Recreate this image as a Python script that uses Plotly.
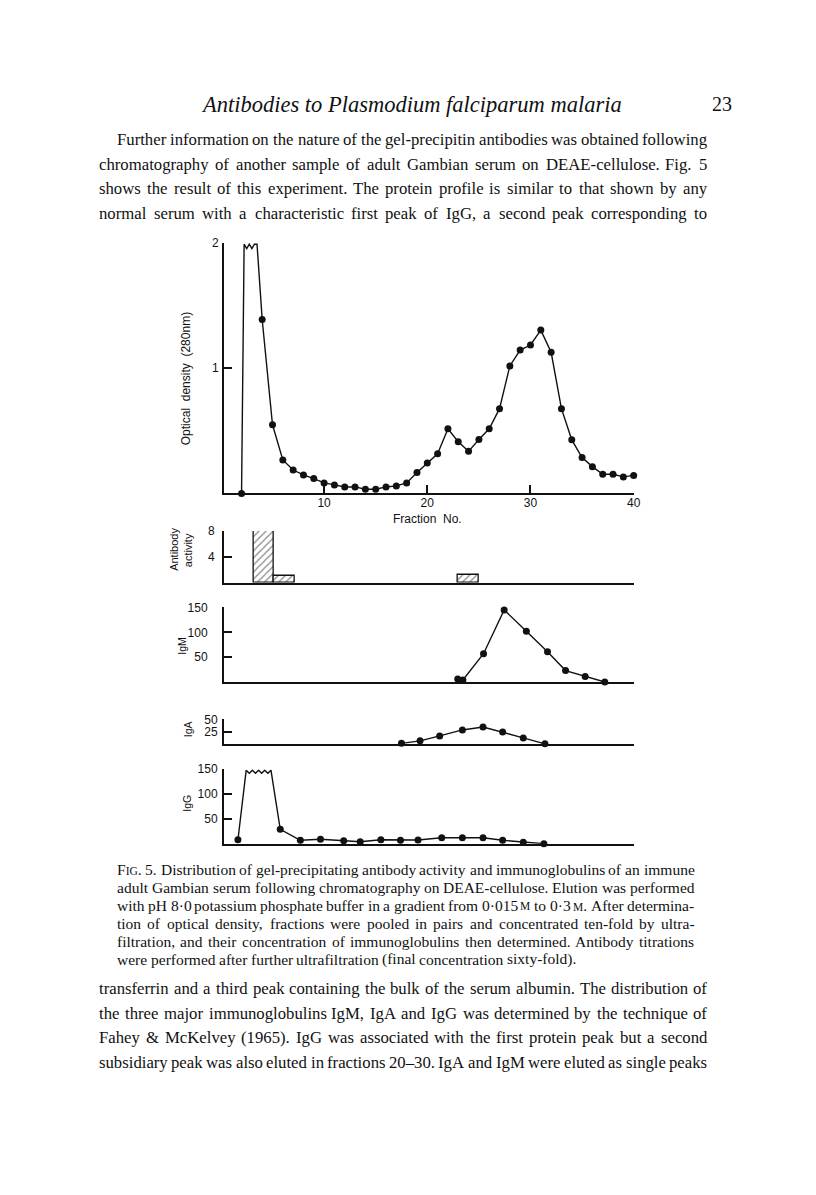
import re
import plotly.graph_objects as go

# ------------------------------------------------------------------ data
od_fraction = [2, 4, 5, 6, 7, 8, 9, 10, 11, 12, 13, 14, 15, 16, 17, 18, 19, 20, 21,
               22, 23, 24, 25, 26, 27, 28, 29, 30, 31, 32, 33, 34, 35, 36, 37, 38, 39, 40]
od_value = [0.0, 1.389, 0.548, 0.267, 0.187, 0.148, 0.119, 0.084, 0.068, 0.052, 0.052,
            0.034, 0.034, 0.052, 0.060, 0.084, 0.167, 0.243, 0.317, 0.516, 0.413, 0.336,
            0.431, 0.516, 0.677, 1.018, 1.145, 1.185, 1.304, 1.127, 0.677, 0.428, 0.286,
            0.214, 0.153, 0.153, 0.132, 0.144]
# off-scale break drawn at the top of the first peak
od_break_x = [2.25, 2.5, 2.75, 3.0, 3.25, 3.5]
od_break_y = [1.99, 1.955, 1.99, 1.955, 1.99, 1.99]

ab_fraction = [4.15, 6.15, 24.0]
ab_activity = [8, 1.0, 1.2]
ab_width = 2.0

igm_fraction = [22.95, 23.45, 25.45, 27.45, 29.6, 31.65, 33.4, 35.3, 37.2]
igm_value = [6, 4, 57, 145, 102, 61, 23, 11, 0]

iga_fraction = [17.5, 19.3, 21.2, 23.4, 25.4, 27.3, 29.3, 31.4]
iga_value = [2, 7, 17, 29, 35, 25, 13, 1]

igg_fraction = [1.65, 5.75, 7.7, 9.65, 11.9, 13.5, 15.5, 17.4, 19.1, 21.4, 23.4, 25.4,
                27.3, 29.3, 31.3]
igg_value = [8, 29, 7, 9, 6, 4, 8, 7, 7.5, 12, 12, 12, 7, 3, 0]
igg_break_x = [2.45, 2.75, 3.05, 3.35, 3.65, 3.95, 4.25, 4.55, 4.85]
igg_break_y = [148, 142, 148, 142, 148, 142, 148, 142, 148]

x_ticks = [10, 20, 30, 40]
x_tick_text = ["10", "20", "30", "40"]

# ------------------------------------------------------------------ page geometry
PAGE_W, PAGE_H = 816, 1195
OFF = 8                      # default page margin of the html body
W, H = PAGE_W - 2 * OFF, PAGE_H - 2 * OFF
X_LEFT_PX, X_RIGHT_PX = 225.7, 639.2
X_RANGE = [0.28, 40.0]
INK = "#111111"
SANS = "Liberation Sans"
SERIF = "Liberation Serif"


def py(v):
    return 1 - (v - OFF) / H


def px(v):
    return (v - OFF) / W


fig = go.Figure()

# panels: suffix -> (bottom px, top px, yrange, tickvals, label standoff)
panels = {
    "": (489.3, 237.3, [0, 2.0], [1, 2], 1),
    "2": (579.0, 527.0, [0, 8], [4, 8], 5),
    "3": (679.0, 604.0, [0, 150], [50, 100, 150], 12),
    "4": (741.7, 716.7, [0, 50], [25, 50], 2),
    "5": (841.7, 766.7, [0, 150], [50, 100, 150], 2),
}

layout_axes = {}
for suf, (b, t, yr, tv, stand) in panels.items():
    xa = dict(domain=[px(X_LEFT_PX), px(X_RIGHT_PX)], range=X_RANGE,
              anchor="y" + suf, showgrid=False, zeroline=False,
              showline=True, linecolor=INK, linewidth=1.6)
    if suf == "":
        xa.update(ticks="inside", ticklen=9, tickwidth=1.5, tickcolor=INK,
                  tickvals=x_ticks, ticktext=x_tick_text, ticklabelstandoff=-3,
                  tickfont=dict(family=SANS, size=12, color=INK))
    else:
        xa.update(ticks="", showticklabels=False)
    ya = dict(domain=[py(b), py(t)], range=yr, anchor="x" + suf,
              showgrid=False, zeroline=False, showline=True, linecolor=INK,
              linewidth=1.6, ticks="inside", ticklen=8, tickwidth=1.5,
              tickcolor=INK, tickvals=tv, ticktext=[f"{v:g}" for v in tv],
              tickfont=dict(family=SANS, size=12, color=INK),
              ticklabelstandoff=stand)
    layout_axes["xaxis" + suf] = xa
    layout_axes["yaxis" + suf] = ya

line_style = dict(color=INK, width=1.4)
mk = dict(color=INK, size=7)

# optical density
fig.add_trace(go.Scatter(x=[od_fraction[0]] + od_break_x + od_fraction[1:],
                         y=[od_value[0]] + od_break_y + od_value[1:],
                         mode="lines", line=line_style, xaxis="x", yaxis="y",
                         hoverinfo="skip", showlegend=False))
fig.add_trace(go.Scatter(x=od_fraction, y=od_value, mode="markers", marker=mk,
                         xaxis="x", yaxis="y", cliponaxis=False, showlegend=False))

# antibody activity
fig.add_trace(go.Bar(x=ab_fraction, y=ab_activity, width=ab_width,
                     marker=dict(color="white", line=dict(color=INK, width=1.3),
                                 pattern=dict(shape="/", fgcolor=INK, bgcolor="white",
                                              size=5, solidity=0.25)),
                     xaxis="x2", yaxis="y2", showlegend=False))

# IgM
fig.add_trace(go.Scatter(x=igm_fraction, y=igm_value, mode="lines+markers",
                         line=line_style, marker=mk, xaxis="x3", yaxis="y3",
                         cliponaxis=False, showlegend=False))
# IgA
fig.add_trace(go.Scatter(x=iga_fraction, y=iga_value, mode="lines+markers",
                         line=line_style, marker=mk, xaxis="x4", yaxis="y4",
                         cliponaxis=False, showlegend=False))
# IgG
fig.add_trace(go.Scatter(x=[igg_fraction[0]] + igg_break_x + igg_fraction[1:],
                         y=[igg_value[0]] + igg_break_y + igg_value[1:],
                         mode="lines", line=line_style, xaxis="x5", yaxis="y5",
                         hoverinfo="skip", showlegend=False))
fig.add_trace(go.Scatter(x=igg_fraction, y=igg_value, mode="markers", marker=mk,
                         xaxis="x5", yaxis="y5", cliponaxis=False, showlegend=False))

annotations = []


def label(text, xpx, ypx, size=12, angle=0, family=SANS, xanchor="center", italic=False):
    annotations.append(dict(text=text, x=px(xpx), y=py(ypx), xref="paper", yref="paper",
                            showarrow=False, textangle=angle, xanchor=xanchor,
                            yanchor="middle",
                            font=dict(family=family, size=size, color=INK,
                                      style="italic" if italic else "normal")))


label("Optical  density  (280nm)", 187.5, 373.5, size=12, angle=-90)
label("Fraction  No.", 431.7, 515, size=12)
label("Antibody", 175.5, 546, size=11, angle=-90)
label("activity", 189, 546, size=11, angle=-90)
label("IgM", 184, 642, size=10.5, angle=-90)
label("IgA", 189, 726, size=10.5, angle=-90)
label("IgG", 189, 801, size=10.5, angle=-90)

# ------------------------------------------------------------------ page text
TIMES = {' ': 250, '!': 333, '"': 408, '&': 778, "'": 333, '(': 333, ')': 333, ',': 250,
         '-': 333, '.': 250, '/': 278, ':': 278, ';': 278, '·': 250, '–': 500,
         'A': 722, 'B': 667, 'C': 667, 'D': 722, 'E': 611, 'F': 556, 'G': 722, 'H': 722,
         'I': 333, 'J': 389, 'K': 722, 'L': 611, 'M': 889, 'N': 722, 'O': 722, 'P': 556,
         'Q': 722, 'R': 667, 'S': 556, 'T': 611, 'U': 722, 'V': 722, 'W': 944, 'X': 722,
         'Y': 722, 'Z': 611, 'a': 444, 'b': 500, 'c': 444, 'd': 500, 'e': 444, 'f': 333,
         'g': 500, 'h': 500, 'i': 278, 'j': 278, 'k': 500, 'l': 278, 'm': 778, 'n': 500,
         'o': 500, 'p': 500, 'q': 500, 'r': 333, 's': 389, 't': 278, 'u': 500, 'v': 500,
         'w': 722, 'x': 500, 'y': 500, 'z': 444}
SC = 0.74


def nat_width(word, size):
    w = 0.0
    for part in re.split(r"(<sc>.*?</sc>)", word):
        if part.startswith("<sc>"):
            w += sum(TIMES.get(c, 500) for c in part[4:-5]) * size * SC / 1000
        else:
            w += sum(TIMES.get(c, 500) for c in part) * size / 1000
    return w


def to_html(word, size):
    out = ""
    for part in re.split(r"(<sc>.*?</sc>)", word):
        if part.startswith("<sc>"):
            out += f"<span style='font-size:{size * SC:.1f}px'>{part[4:-5]}</span>"
        else:
            out += part.replace("&", "&amp;")
    return out


def block(lines, size=None):
    # lines: (text, left px, right px, y px, justify)
    if size is None:
        ratios = []
        for text, xl, xr, y, just in lines:
            if just:
                words = text.split(" ")
                nat = sum(nat_width(w, 1) for w in words) + 0.25 * (len(words) - 1)
                ratios.append((xr - xl) / nat)
        size = min(ratios)
    for text, xl, xr, y, just in lines:
        words = text.split(" ")
        widths = [nat_width(w, size) for w in words]
        gap = (xr - xl - sum(widths)) / (len(words) - 1) if just else 0.25 * size
        x = xl
        for w, wd in zip(words, widths):
            annotations.append(dict(text=to_html(w, size), x=px(x - 2), y=py(y),
                                    xref="paper", yref="paper", showarrow=False,
                                    xanchor="left", yanchor="middle",
                                    font=dict(family=SERIF, size=size, color=INK)))
            x += wd + gap
    return size


label("Antibodies to Plasmodium falciparum malaria", 415, 98, size=22.5,
      family=SERIF, italic=True)
label("23", 728, 98, size=20, family=SERIF)

top_par = [
    ("Further information on the nature of the gel-precipitin antibodies was obtained following", 118, 713, 133, True),
    ("chromatography of another sample of adult Gambian serum on DEAE-cellulose. Fig. 5", 100, 713, 158, True),
    ("shows the result of this experiment. The protein profile is similar to that shown by any", 100, 713, 183, True),
    ("normal serum with a characteristic first peak of IgG, a second peak corresponding to", 100, 713, 208, True),
]
body_size = block(top_par)

caption = [
    ("F<sc>IG</sc>. 5. Distribution of gel-precipitating antibody activity and immunoglobulins of an immune", 118, 700, 868, True),
    ("adult Gambian serum following chromatography on DEAE-cellulose. Elution was performed", 118, 700, 886, True),
    ("with pH 8·0 potassium phosphate buffer in a gradient from 0·015 <sc>M</sc> to 0·3 <sc>M</sc>. After determina-", 118, 700, 904, True),
    ("tion of optical density, fractions were pooled in pairs and concentrated ten-fold by ultra-", 118, 700, 922, True),
    ("filtration, and their concentration of immunoglobulins then determined. Antibody titrations", 118, 700, 940, True),
    ("were performed after further ultrafiltration (final concentration sixty-fold).", 118, 700, 958, False),
]
block(caption)

bottom_par = [
    ("transferrin and a third peak containing the bulk of the serum albumin. The distribution of", 100, 713, 987, True),
    ("the three major immunoglobulins IgM, IgA and IgG was determined by the technique of", 100, 713, 1012, True),
    ("Fahey & McKelvey (1965). IgG was associated with the first protein peak but a second", 100, 713, 1037, True),
    ("subsidiary peak was also eluted in fractions 20–30. IgA and IgM were eluted as single peaks", 100, 713, 1062, True),
]
block(bottom_par, size=body_size)

fig.update_layout(width=W, height=H, margin=dict(l=0, r=0, t=0, b=0),
                  paper_bgcolor="white", plot_bgcolor="rgba(0,0,0,0)",
                  bargap=0, showlegend=False, annotations=annotations,
                  **layout_axes)

fig.write_html("out.html")
